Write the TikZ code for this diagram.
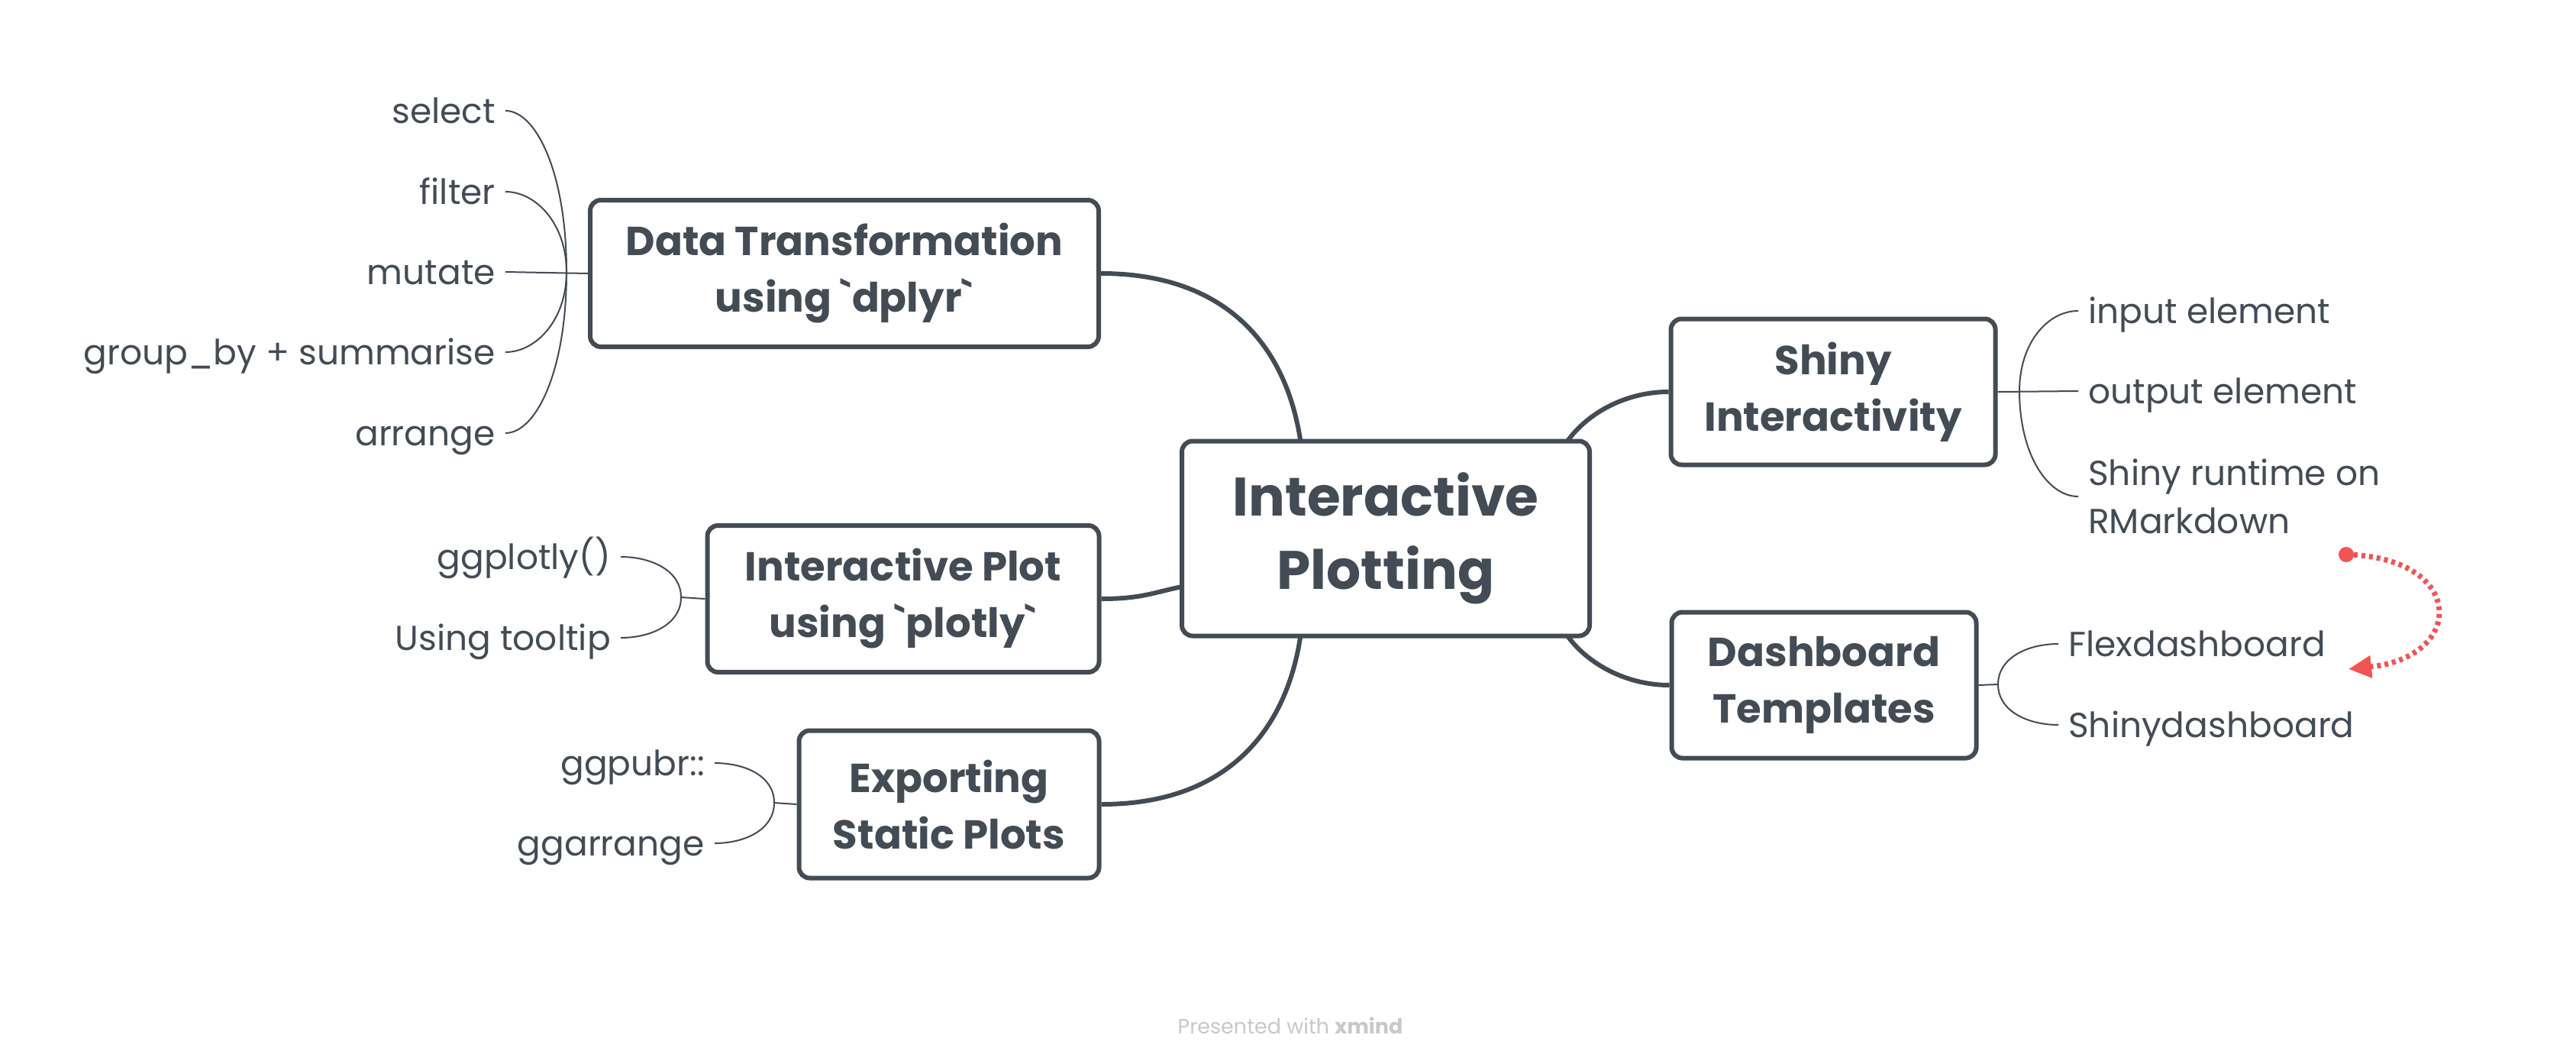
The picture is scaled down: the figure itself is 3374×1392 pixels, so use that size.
\documentclass[tikz,border=0pt]{standalone}
\usepackage{fontspec}
\setmainfont{Poppins}[Ligatures=TeXOff]
\usetikzlibrary{backgrounds,arrows.meta}
\definecolor{ink}{HTML}{434B55}
\definecolor{redc}{HTML}{F25454}
\definecolor{foot}{HTML}{C8C8C8}
\begin{document}
\begin{tikzpicture}[x=1pt,y=-1pt,
  box/.style={draw=ink, line width=6pt, rounded corners=14pt, fill=white, text=ink,
    align=center, inner sep=0pt, font=\bfseries\fontsize{53}{74}\selectfont},
  rootbox/.style={box, font=\bfseries\fontsize{71}{96}\selectfont},
  leaf/.style={text=ink, font=\fontsize{45.5}{63}\selectfont, inner xsep=13pt, inner ysep=0pt},
  leafone/.style={leaf, text height=44pt, text depth=12pt},
  mainline/.style={draw=ink, line width=6pt},
  thinline/.style={draw=ink, line width=2pt},
  relline/.style={draw=redc, line width=7pt, dash pattern=on 5pt off 5pt}]
\useasboundingbox (0,0) rectangle (3374,1392);

% main nodes
\node[rootbox, minimum width=534, minimum height=255] (root) at (1815,705) {Interactive\\Plotting};
\node[box, minimum width=666, minimum height=192] (dt) at (1106,358) {Data Transformation\\using `dplyr`};
\node[box, minimum width=513, minimum height=192] (ip) at (1183,784) {Interactive Plot\\using `plotly`};
\node[box, minimum width=393, minimum height=193] (ex) at (1243,1053) {Exporting\\Static Plots};
\node[box, minimum width=425, minimum height=191] (sh) at (2401,513) {Shiny\\Interactivity};
\node[box, minimum width=399, minimum height=191] (db) at (2389,897) {Dashboard\\Templates};

% leaves
\node[leafone, anchor=east] (l1) at (662,145) {select};
\node[leafone, anchor=east] (l2) at (662,251) {filter};
\node[leafone, anchor=east] (l3) at (662,356) {mutate};
\node[leafone, anchor=east] (l4) at (662,461) {group\_by + summarise};
\node[leafone, anchor=east] (l5) at (662,567) {arrange};
\node[leafone, anchor=east] (p1) at (813,729) {ggplotly()};
\node[leafone, anchor=east] (p2) at (813,835) {Using tooltip};
\node[leafone, anchor=east] (e1) at (936,999) {ggpubr::};
\node[leafone, anchor=east] (e2) at (936,1104) {ggarrange};
\node[leafone, anchor=west] (s1) at (2722,407) {input element};
\node[leafone, anchor=west] (s2) at (2722,512) {output element};
\node[leaf, anchor=west, align=left] (s3) at (2722,650) {Shiny runtime on\\RMarkdown};
\node[leafone, anchor=west] (d1) at (2696,843) {Flexdashboard};
\node[leafone, anchor=west] (d2) at (2696,949) {Shinydashboard};

% fork points
\coordinate (dtf) at (742,356);
\coordinate (ipf) at (892,782);
\coordinate (exf) at (1014,1051);
\coordinate (shf) at (2645,512);
\coordinate (dbf) at (2617,896);

% main connectors (behind the boxes)
\begin{pgfonlayer}{background}
\fill[white] (0,0) rectangle (3374,1392);
\draw[mainline] (dt.east) .. controls +(170,0) and +(-15,-130) .. (1705,590);
\draw[mainline] (ip.east) .. controls +(60,0) and +(-50,8) .. (1565,765);
\draw[mainline] (ex.east) .. controls +(170,0) and +(-15,130) .. (1705,820);
\draw[mainline] (2045,590) .. controls +(25,-45) and +(-60,0) .. (sh.west);
\draw[mainline] (2045,820) .. controls +(25,45) and +(-60,0) .. (db.west);
\end{pgfonlayer}

% leaf connectors
\draw[thinline] (l1.east) .. controls +(40,0) and +(0,-130) .. (dtf);
\draw[thinline] (l2.east) .. controls +(40,0) and +(0,-63) .. (dtf);
\draw[thinline] (l3.east) -- (dt.west);
\draw[thinline] (l4.east) .. controls +(40,0) and +(0,63) .. (dtf);
\draw[thinline] (l5.east) .. controls +(40,0) and +(0,130) .. (dtf);

\draw[thinline] (p1.east) .. controls +(40,0) and +(0,-35) .. (ipf);
\draw[thinline] (p2.east) .. controls +(40,0) and +(0,35) .. (ipf);
\draw[thinline] (ipf) -- (ip.west);

\draw[thinline] (e1.east) .. controls +(40,0) and +(0,-35) .. (exf);
\draw[thinline] (e2.east) .. controls +(40,0) and +(0,35) .. (exf);
\draw[thinline] (exf) -- (ex.west);

\draw[thinline] (s1.west) .. controls +(-40,0) and +(0,-63) .. (shf);
\draw[thinline] (sh.east) -- (s2.west);
\draw[thinline] (s3.west) .. controls +(-40,0) and +(0,83) .. (shf);

\draw[thinline] (d1.west) .. controls +(-40,0) and +(0,-35) .. (dbf);
\draw[thinline] (d2.west) .. controls +(-40,0) and +(0,35) .. (dbf);
\draw[thinline] (db.east) -- (dbf);

% relationship arrow
\coordinate (rs) at (3073,726);
\coordinate (re) at (3076,876);
\fill[redc] (rs) circle (10pt);
\draw[relline, -{Triangle[length=30pt,width=28pt]}] (rs) .. controls (3230,730) and (3230,860) .. (re);

% footer
\node[text=foot, font=\fontsize{27}{32}\selectfont] (footer) at (1690,1343) {Presented with \textbf{xmind}};
\end{tikzpicture}
\end{document}
